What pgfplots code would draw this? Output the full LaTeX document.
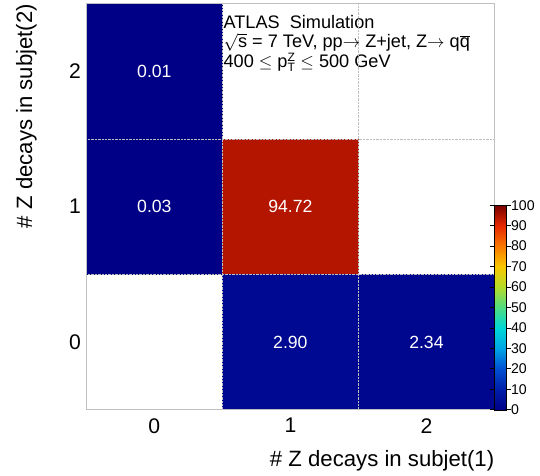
\documentclass[border=0pt]{standalone}
\usepackage{pgfplots}
\pgfplotsset{compat=1.18}
\usepackage{fontspec}
\setmainfont{Liberation Sans}

\pgfplotsset{
  colormap={rootpal}{
    rgb255=(0,0,135) rgb255=(0,30,170) rgb255=(0,80,210) rgb255=(0,165,230)
    rgb255=(0,215,215) rgb255=(80,220,130) rgb255=(180,220,40) rgb255=(250,200,0)
    rgb255=(250,120,0) rgb255=(230,40,0) rgb255=(120,0,0)}
}

% cells: 4 corners each, value repeated
\pgfplotstableread{
x y c
-0.5 1.5 0.01
0.5 1.5 0.01
0.5 2.5 0.01
-0.5 2.5 0.01
-0.5 0.5 0.03
0.5 0.5 0.03
0.5 1.5 0.03
-0.5 1.5 0.03
0.5 0.5 94.72
1.5 0.5 94.72
1.5 1.5 94.72
0.5 1.5 94.72
0.5 -0.5 2.90
1.5 -0.5 2.90
1.5 0.5 2.90
0.5 0.5 2.90
1.5 -0.5 2.34
2.5 -0.5 2.34
2.5 0.5 2.34
1.5 0.5 2.34
}\cells

\newcommand{\smalltxt}[1]{\mbox{\fontsize{12}{12}\selectfont #1}}

\begin{document}
\begin{tikzpicture}
\begin{axis}[
    scale only axis,
    width=405pt, height=403pt,
    xmin=-0.5, xmax=2.5, ymin=-0.5, ymax=2.5,
    xtick={0,1,2}, ytick={0,1,2},
    minor xtick={0.5,1.5}, minor ytick={0.5,1.5},
    grid=minor,
    minor grid style={densely dotted, color=black!25, line width=0.8pt},
    major tick length=0pt, minor tick length=0pt,
    axis line style={color=black!25, line width=1.3pt},
    axis on top,
    /pgf/number format/assume math mode=true,
    tick label style={font=\fontsize{21}{21}\selectfont},
    xticklabel style={yshift=-5pt},
    yticklabel style={xshift=-2pt},
    xlabel={\# Z decays in subjet(1)},
    ylabel={\# Z decays in subjet(2)},
    label style={font=\fontsize{22}{22}\selectfont},
    xlabel style={at={(axis description cs:1,0)}, anchor=north east, yshift=-40pt, inner sep=0pt},
    ylabel style={at={(axis description cs:0,1)}, anchor=south east, yshift=49pt, inner sep=0pt},
    colormap name=rootpal,
    point meta min=0, point meta max=100,
    colorbar,
    colorbar style={
      scale only axis,
      width=12pt, height=203pt,
      at={(1,0)}, anchor=south west, xshift=2pt,
      ytick={0,10,...,100},
      tick align=outside,
      major tick length=4pt,
      ytick style={black, line width=0.8pt},
      axis line style={black, line width=0.4pt},
      /pgf/number format/assume math mode=true,
      yticklabel style={font=\fontsize{14}{14}\selectfont, xshift=-3pt},
      grid=none,
    },
  ]
  \addplot[patch, patch type=rectangle, shader=flat, point meta=explicit]
    table[x=x, y=y, meta=c] {\cells};
  \addplot[only marks, mark=none, nodes near coords, point meta=explicit symbolic,
    nodes near coords style={anchor=center, text=white, font=\fontsize{17.5}{17.5}\selectfont}]
    table[meta=lab] {
    x y lab
    0 2 0.01
    0 1 0.03
    1 1 94.72
    1 0 2.90
    2 0 2.34
    };
  \node[anchor=north west, align=left, inner sep=0pt, xshift=1pt, yshift=-11pt,
    font=\fontsize{18}{19.5}\selectfont] at (axis cs:0.5,2.5)
    {ATLAS\ \ Simulation\\
     $\sqrt{\mbox{s}}$ = 7 TeV, pp$\rightarrow$ Z+jet, Z$\rightarrow$ q$\overline{\mbox{q}}$\\
     400 $\leq$ p$^{\smalltxt{Z}}_{\smalltxt{T}}$ $\leq$ 500 GeV};
\end{axis}
% outer margins as in the reference
\path (current bounding box.south west) ++(-16pt,-5pt);
\path (current bounding box.north east) ++(2pt,3pt);
\end{tikzpicture}
\end{document}
